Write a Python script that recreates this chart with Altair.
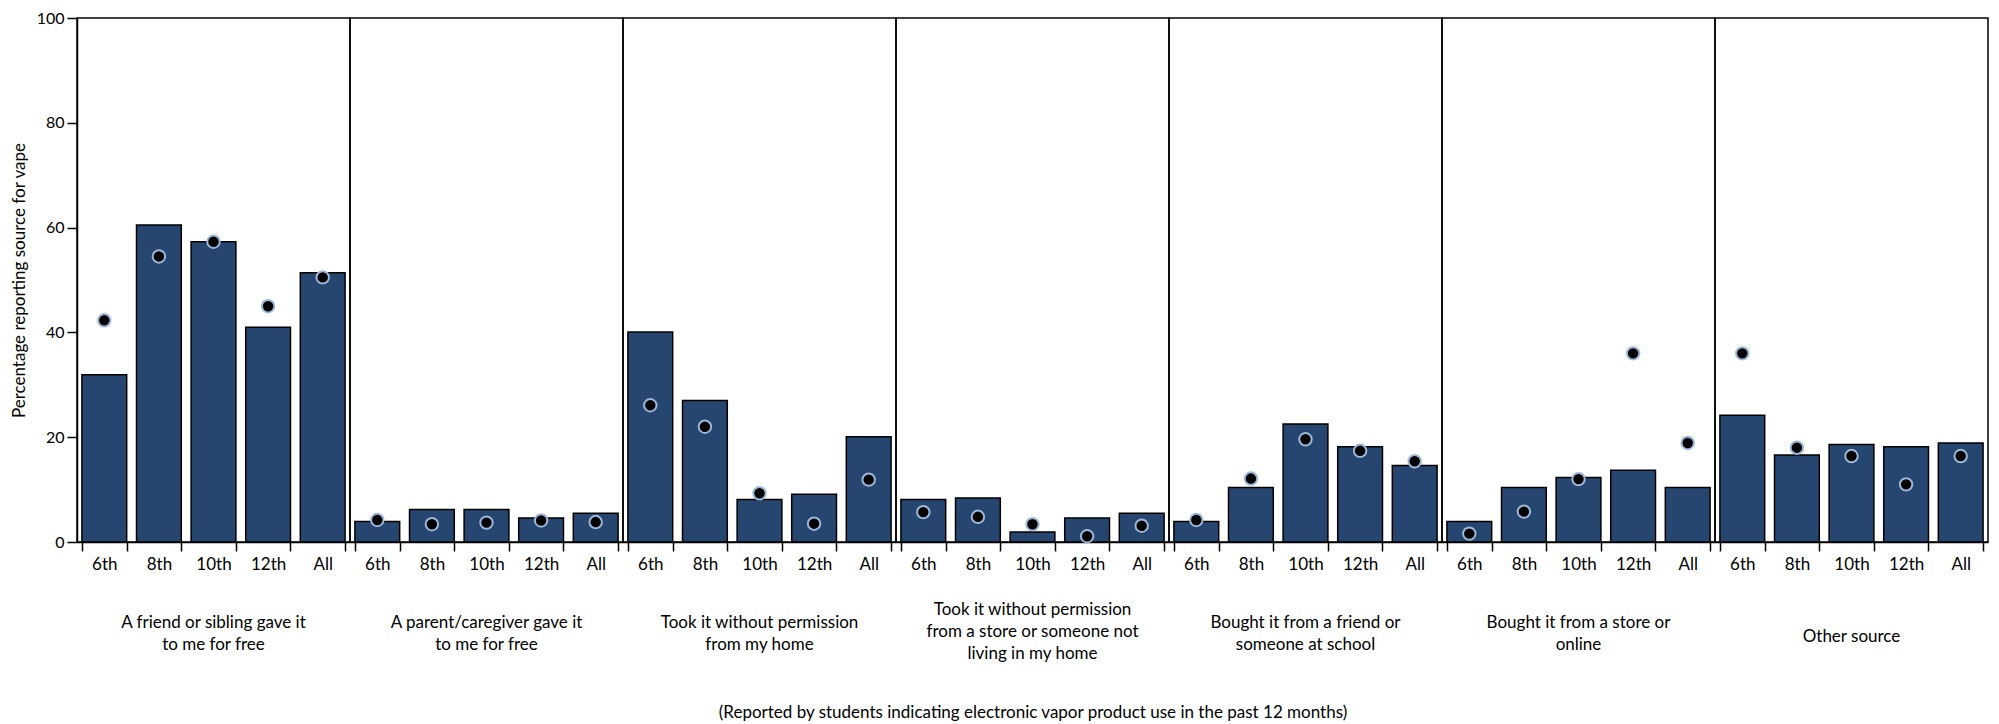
import altair as alt
import pandas as pd

sources = [
    "A friend or sibling gave it|to me for free",
    "A parent/caregiver gave it|to me for free",
    "Took it without permission|from my home",
    "Took it without permission|from a store or someone not|living in my home",
    "Bought it from a friend or|someone at school",
    "Bought it from a store or|online",
    "Other source",
]
grades = ["6th", "8th", "10th", "12th", "All"]

bar_values = [
    [31.9, 60.5, 57.3, 41.0, 51.4],
    [3.9, 6.2, 6.2, 4.6, 5.5],
    [40.1, 27.0, 8.1, 9.1, 20.1],
    [8.1, 8.4, 1.9, 4.6, 5.5],
    [3.9, 10.4, 22.5, 18.2, 14.6],
    [3.9, 10.4, 12.3, 13.7, 10.4],
    [24.2, 16.6, 18.6, 18.2, 18.9],
]
dot_values = [
    [42.3, 54.5, 57.3, 45.0, 50.5],
    [4.2, 3.4, 3.7, 4.1, 3.8],
    [26.1, 22.0, 9.3, 3.5, 11.9],
    [5.7, 4.8, 3.4, 1.1, 3.1],
    [4.2, 12.1, 19.6, 17.4, 15.4],
    [1.6, 5.8, 12.0, 36.0, 18.9],
    [36.0, 18.0, 16.4, 11.0, 16.4],
]

rows = []
for s, bv, dv in zip(sources, bar_values, dot_values):
    for g, b, d in zip(grades, bv, dv):
        rows.append({"source": s, "grade": g, "bar": b, "dot": d})
df = pd.DataFrame(rows)

FONT = "Lato"
YTITLE = "Percentage reporting source for vape"
PANEL_W = 273
PANEL_H = 524

x_enc = alt.X(
    "grade:N",
    sort=grades,
    title=None,
    scale=alt.Scale(paddingInner=0.18, paddingOuter=0.09),
    axis=alt.Axis(labelAngle=0, tickBand="extent", tickSize=9, labelPadding=5,
                  labelFontSize=17, domainColor="black", tickColor="black",
                  labelColor="black", tickWidth=1.5, domainWidth=1.5),
)
y_axis = alt.Axis(values=[0, 20, 40, 60, 80, 100], grid=False, tickSize=10,
                  labelPadding=3, labelFontSize=16, titleFontSize=17,
                  titleFontWeight="normal", titlePadding=8, domainColor="black",
                  tickColor="black", labelColor="black", titleColor="black",
                  tickWidth=1.5, domainWidth=1.5)

base = alt.Chart(df)
bars = base.mark_bar(fill="#27466f", stroke="black", strokeWidth=1.5).encode(
    x=x_enc,
    y=alt.Y("bar:Q", scale=alt.Scale(domain=[0, 100]), axis=y_axis, title=YTITLE),
)
dots = base.mark_circle(size=155, fill="black", opacity=1, stroke="#9bb7da",
                        strokeWidth=2).encode(
    x=x_enc,
    y=alt.Y("dot:Q", scale=alt.Scale(domain=[0, 100]), axis=y_axis, title=YTITLE),
)

# category label under each panel, vertically centred on its number of lines
label_top = PANEL_H + 86.5
label_step = 13.5
labels = base.transform_filter(
    alt.datum.grade == "All"
).transform_calculate(
    nlines="length(split(datum.source, '|'))",
    ly=f"{label_top} - (datum.nlines - 1) * {label_step}",
).mark_text(
    lineBreak="|", baseline="top", align="center", fontSize=17, font=FONT,
    color="black", lineHeight=22,
).encode(
    x=alt.value(PANEL_W / 2),
    y=alt.Y("ly:Q", scale=None),
    text="source:N",
)

layer = alt.layer(bars, dots, labels).properties(width=PANEL_W, height=PANEL_H)

chart = layer.facet(
    column=alt.Column(
        "source:N",
        sort=sources,
        title="(Reported by students indicating electronic vapor product use in the past 12 months)",
        header=alt.Header(
            labels=False,
            titleOrient="bottom",
            titleFontSize=17,
            titleFont=FONT,
            titleColor="black",
            titleFontWeight="normal",
            titlePadding=123,
        ),
    ),
    spacing=0,
).properties(
    bounds="flush",
    padding={"left": 2, "top": 2, "right": 0, "bottom": 0},
).configure(
    font=FONT
).configure_view(
    stroke="black", strokeWidth=1.5
)

chart.save("out.html", embed_options={"renderer": "svg", "actions": False})
